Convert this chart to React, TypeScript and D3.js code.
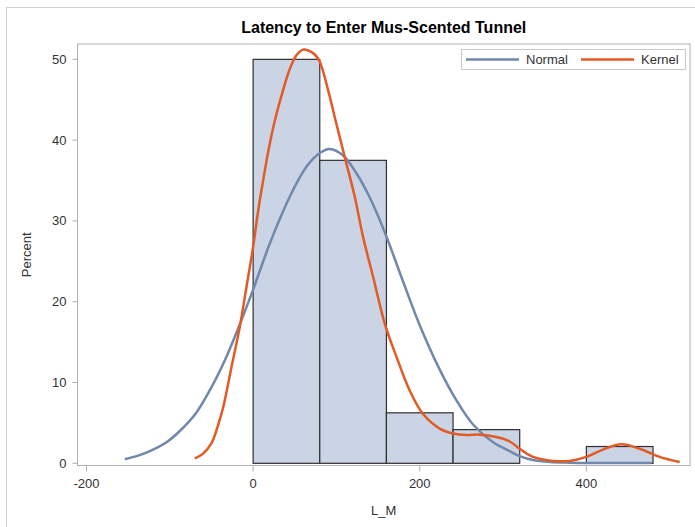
import React, { useEffect, useRef } from 'react';
import * as d3 from 'd3';

// histogram bins (L_M, width 80) and percent of 48 mice
const binStarts = [0, 80, 160, 240, 320, 400];
const binWidth = 80;
const binPercents = [50, 37.5, 6.25, 4.17, 0, 2.08];

// fitted normal curve
const normalX = [-154, -138, -124, -104, -88, -68, -48, -32, -16, 0, 20, 44, 64, 80, 92, 108, 124, 140, 158, 180, 200, 224, 244, 264, 288, 308, 320, 336, 356, 380, 420, 478];
const normalY = [0.5, 0.95, 1.5, 2.6, 4.0, 6.3, 9.8, 13.2, 17.2, 21.5, 27.2, 33.0, 36.7, 38.4, 38.9, 38.1, 35.9, 32.9, 28.6, 22.5, 17.1, 11.6, 7.8, 4.8, 2.6, 1.5, 0.9, 0.4, 0.16, 0.08, 0.05, 0.04];

// kernel density curve
const kernelX = [-70, -60, -50, -43, -36, -26, -16, -8, 0, 6, 12, 18, 26, 36, 44, 52, 60, 66, 74, 80, 90, 100, 112, 122, 132, 144, 158, 172, 188, 204, 224, 240, 256, 272, 292, 308, 320, 336, 360, 380, 400, 420, 442, 464, 488, 512];
const kernelY = [0.6, 1.2, 2.5, 4.4, 6.9, 11.9, 16.9, 21.8, 26.8, 31.2, 35.0, 38.5, 42.4, 46.2, 48.8, 50.5, 51.2, 51.1, 50.6, 49.7, 46.2, 42.0, 37.1, 33.0, 28.0, 23.1, 17.3, 13.2, 9.0, 6.1, 4.3, 3.7, 3.5, 3.55, 3.25, 2.7, 1.8, 0.8, 0.3, 0.3, 0.8, 1.7, 2.35, 1.8, 0.8, 0.16];

const xTicks = [-200, 0, 200, 400];
const yTicks = [0, 10, 20, 30, 40, 50];

const legendItems = ['Normal', 'Kernel'];
const lineColors = ['#7088ab', '#e35a25'];

function App() {
  const svgRef = useRef();

  useEffect(() => {
    const width = 695;
    const height = 527;
    const left = 77.5, right = 690, top = 44, bottom = 465.5;
    const font = '"Liberation Sans", Arial, sans-serif';

    const svg = d3.select(svgRef.current);
    svg.selectAll('*').remove();
    svg.attr('width', width).attr('height', height);

    svg.append('rect')
      .attr('x', 6.5).attr('y', 7.5)
      .attr('width', width).attr('height', height)
      .attr('fill', 'white')
      .attr('stroke', '#d0d0d0');

    const x = d3.scaleLinear().domain([-210.8, 524.4]).range([left, right]);
    const y = d3.scaleLinear().domain([-0.27, 51.9]).range([bottom, top]);

    // title
    svg.append('text')
      .attr('x', (left + right) / 2).attr('y', 33)
      .attr('text-anchor', 'middle')
      .style('font-family', font).style('font-size', '16px').style('font-weight', 'bold')
      .attr('fill', '#000')
      .text('Latency to Enter Mus-Scented Tunnel');

    // bars
    svg.append('g').selectAll('rect')
      .data(binStarts)
      .join('rect')
      .attr('x', d => x(d))
      .attr('width', d => x(d + binWidth) - x(d))
      .attr('y', (d, i) => y(binPercents[i]))
      .attr('height', (d, i) => y(0) - y(binPercents[i]))
      .attr('fill', '#cad4e4')
      .attr('stroke', '#303030')
      .attr('stroke-width', 1.2);

    // curves
    const line = d3.line()
      .x(d => x(d[0]))
      .y(d => y(d[1]))
      .curve(d3.curveCatmullRom);

    const normalPts = normalX.map((v, i) => [v, normalY[i]]);
    const kernelPts = kernelX.map((v, i) => [v, kernelY[i]]);

    svg.append('path')
      .attr('d', line(normalPts))
      .attr('fill', 'none')
      .attr('stroke', lineColors[0])
      .attr('stroke-width', 2.5);

    svg.append('path')
      .attr('d', line(kernelPts))
      .attr('fill', 'none')
      .attr('stroke', lineColors[1])
      .attr('stroke-width', 2.5);

    // plot frame
    svg.append('rect')
      .attr('x', left).attr('y', top)
      .attr('width', right - left).attr('height', bottom - top)
      .attr('fill', 'none')
      .attr('stroke', '#b0b0b0');

    // y axis
    const yAxis = svg.append('g');
    yAxis.selectAll('line')
      .data(yTicks)
      .join('line')
      .attr('x1', left - 5).attr('x2', left)
      .attr('y1', d => y(d)).attr('y2', d => y(d))
      .attr('stroke', '#b0b0b0');
    yAxis.selectAll('text')
      .data(yTicks)
      .join('text')
      .attr('x', left - 11).attr('y', d => y(d))
      .attr('dy', '0.35em')
      .attr('text-anchor', 'end')
      .style('font-family', font).style('font-size', '13px')
      .attr('fill', '#333')
      .text(d => d);

    // x axis
    const xAxis = svg.append('g');
    xAxis.selectAll('line')
      .data(xTicks)
      .join('line')
      .attr('x1', d => x(d)).attr('x2', d => x(d))
      .attr('y1', bottom).attr('y2', bottom + 6)
      .attr('stroke', '#b0b0b0');
    xAxis.selectAll('text')
      .data(xTicks)
      .join('text')
      .attr('x', d => x(d)).attr('y', 488)
      .attr('text-anchor', 'middle')
      .style('font-family', font).style('font-size', '13px')
      .attr('fill', '#333')
      .text(d => d);

    // axis labels
    svg.append('text')
      .attr('x', (left + right) / 2).attr('y', 515)
      .attr('text-anchor', 'middle')
      .style('font-family', font).style('font-size', '13px')
      .attr('fill', '#333')
      .text('L_M');

    svg.append('text')
      .attr('transform', `translate(31,${(top + bottom) / 2}) rotate(-90)`)
      .attr('text-anchor', 'middle')
      .style('font-family', font).style('font-size', '13px')
      .attr('fill', '#333')
      .text('Percent');

    // legend
    const lg = svg.append('g');
    lg.append('rect')
      .attr('x', 461.5).attr('y', 49.5)
      .attr('width', 224).attr('height', 20)
      .attr('fill', 'white')
      .attr('stroke', '#c8c8c8');
    const lx = [466, 581];
    legendItems.forEach((name, i) => {
      lg.append('line')
        .attr('x1', lx[i]).attr('x2', lx[i] + 53)
        .attr('y1', 59.5).attr('y2', 59.5)
        .attr('stroke', lineColors[i])
        .attr('stroke-width', 2.5);
      lg.append('text')
        .attr('x', lx[i] + 60).attr('y', 59.5)
        .attr('dy', '0.35em')
        .style('font-family', font).style('font-size', '13px')
        .attr('fill', '#333')
        .text(name);
    });
  }, []);

  return (
    <svg ref={svgRef} style={{ position: 'absolute', left: 0, top: 0, display: 'block' }}></svg>
  );
}

export default App;
